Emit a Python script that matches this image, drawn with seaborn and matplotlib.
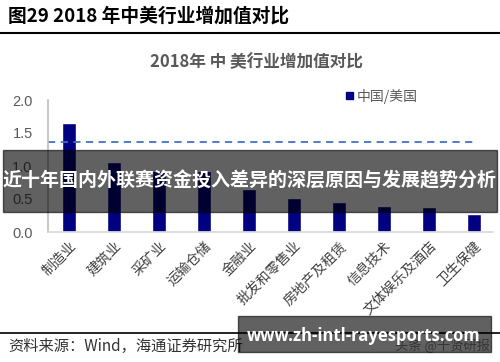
import matplotlib
matplotlib.use("Agg")
import matplotlib.pyplot as plt
import seaborn as sns
import pandas as pd
from matplotlib.patches import Rectangle

categories = ["制造业", "建筑业", "采矿业", "运输仓储", "金融业", "批发和零售业",
              "房地产及租赁", "信息技术", "文体娱乐及酒店", "卫生保健"]
ratio_values = [1.65, 1.065, 0.92, 0.92, 0.65, 0.52, 0.45, 0.40, 0.38, 0.28]
average_value = 1.36
y_ticks = [0.0, 0.5, 1.0, 1.5, 2.0]

sns.set_theme(style="white")
plt.rcParams['font.family'] = ['Noto Sans CJK SC', 'DejaVu Sans']

df = pd.DataFrame({"cat": categories, "val": ratio_values})

W, H = 500, 362
fig = plt.figure(figsize=(W/100, H/100), dpi=100)
ax = fig.add_axes([48/W, 1-232/H, 445/W, 132/H])

sns.barplot(data=df, x="cat", y="val", color="#000080", saturation=1, width=0.3, ax=ax)
ax.axhline(average_value, xmin=0, xmax=0.964, color="#4472C4", linestyle=(0, (4, 3)), linewidth=1.3)

ax.set_xlim(-0.467, 9.42)
ax.set_ylim(0, 2.0)
ax.set_yticks(y_ticks)
ax.set_yticklabels([f"{t:.1f}" for t in y_ticks], fontsize=10.5, color="#595959", family=['Liberation Sans', 'DejaVu Sans'])
ax.set_xticks(range(len(categories)))
ax.set_xticklabels(categories, rotation=45, ha="right", rotation_mode="anchor", fontsize=10, color="#404040")
ax.set_xlabel("")
ax.set_ylabel("")
ax.tick_params(axis='y', length=3, color="#BFBFBF", pad=8)
ax.tick_params(axis='x', length=0, pad=5)
for s in ["top", "right"]:
    ax.spines[s].set_visible(False)
ax.spines["left"].set_color("#BFBFBF")
ax.spines["bottom"].set_color("#D9D9D9")

# headers
fig.text(8/W, 1-16/H, "图29 2018 年中美行业增加值对比", fontsize=13.5, fontweight="bold",
         color="#000000", va="center", ha="left")
fig.add_artist(plt.Line2D([0, 1], [1-33/H, 1-33/H], color="#000000", linewidth=1.5))
fig.text(257/W, 1-62/H, "2018年 中 美行业增加值对比", fontsize=12, fontweight="bold",
         color="#595959", va="center", ha="center")

# legend
fig.add_artist(Rectangle((346/W, 1-99/H), 7/W, 7/H, color="#000080", transform=fig.transFigure))
fig.text(357/W, 1-96/H, "中国/美国", fontsize=10, color="#595959", va="center", ha="left")

# footer
fig.add_artist(plt.Line2D([0, 1], [1-333/H, 1-333/H], color="#000000", linewidth=1.2))
fig.text(8/W, 1-346/H, "资料来源：Wind，海通证券研究所", fontsize=11, color="#333333", va="center", ha="left")
fig.text(490/W, 1-346/H, "头条 @千贤研报", fontsize=9.5, color="#888888", va="center", ha="right")

# overlay banners
fig.add_artist(Rectangle((3/W, 1-212/H), 494/W, 62/H, color="#000000", alpha=0.62,
                         transform=fig.transFigure, zorder=10))
fig.text(250/W, 1-181/H, "近十年国内外联赛资金投入差异的深层原因与发展趋势分析", fontsize=13.7,
         fontweight="bold", color="white", va="center", ha="center", zorder=11)
fig.add_artist(Rectangle((238/W, 1-352/H), 253/W, 36/H, color="#000000", alpha=0.62,
                         transform=fig.transFigure, zorder=10))
fig.text(364/W, 1-336/H, "www.zh-intl-rayesports.com", fontsize=12, fontweight="bold",
         color="white", va="center", ha="center", zorder=11, family=['Open Sans', 'DejaVu Sans'])

fig.savefig("out.png", dpi=100)
